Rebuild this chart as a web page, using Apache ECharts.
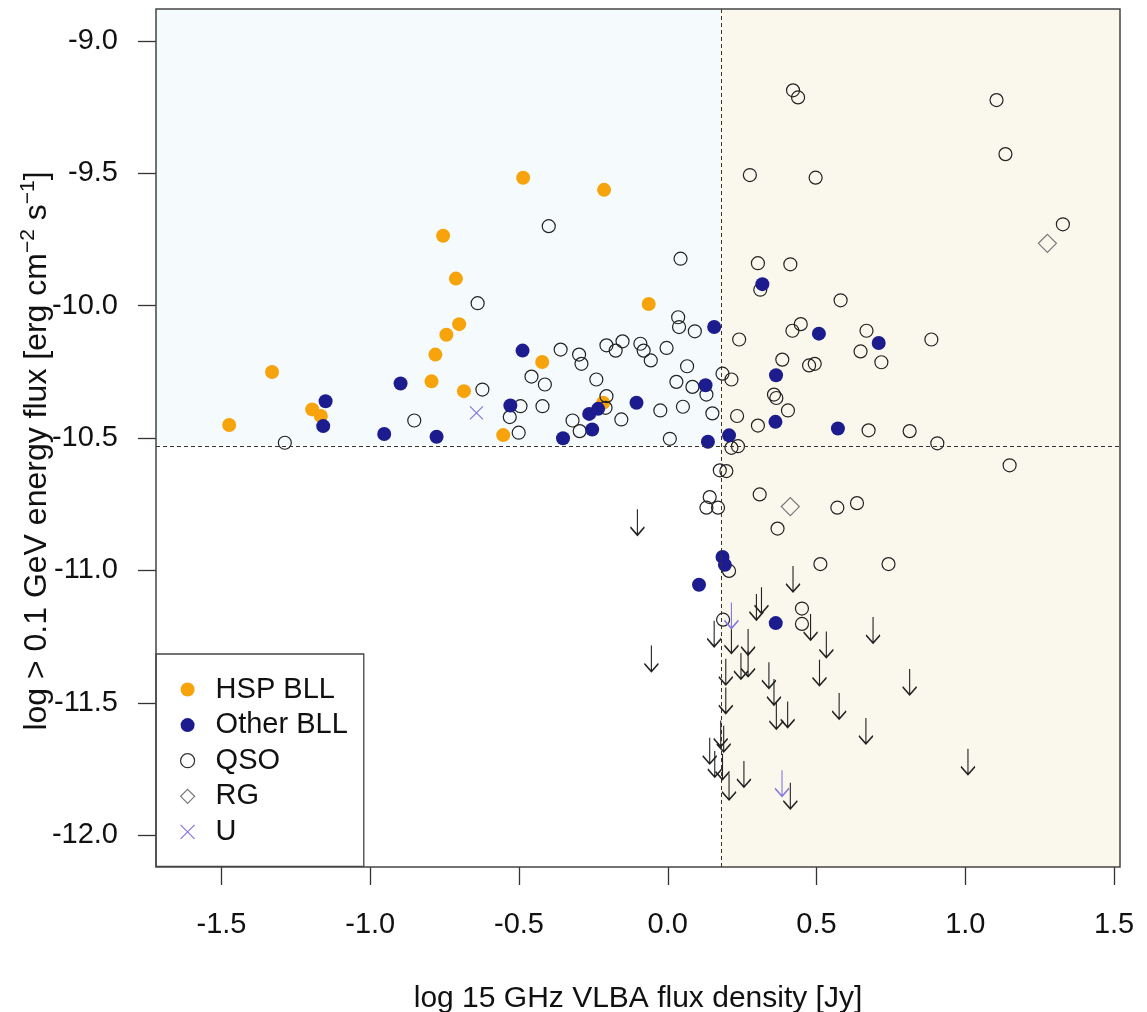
<!DOCTYPE html>
<html>
<head>
<meta charset="utf-8">
<script src="https://cdn.jsdelivr.net/npm/echarts@6/dist/echarts.min.js"></script>
<style>
  html, body { margin: 0; padding: 0; background: #ffffff; }
  #chart { width: 1147px; height: 1012px; }
</style>
</head>
<body>
<div id="chart"></div>
<script>
// Sources: [log 15 GHz VLBA flux density (Jy), log >0.1 GeV energy flux (erg cm^-2 s^-1)]
const hspBll = [
  [-1.474, -10.451], [-1.330, -10.251], [-1.195, -10.392], [-1.166, -10.417],
  [-0.712, -9.898], [-0.701, -10.070], [-0.744, -10.110], [-0.781, -10.185],
  [-0.794, -10.286], [-0.685, -10.323], [-0.755, -9.736], [-0.486, -9.517],
  [-0.214, -9.563], [-0.064, -9.994], [-0.422, -10.213], [-0.553, -10.489],
  [-0.217, -10.367]
];
const otherBll = [
  [-1.150, -10.361], [-1.158, -10.455], [-0.898, -10.294], [-0.953, -10.485],
  [-0.777, -10.495], [-0.488, -10.170], [-0.529, -10.377], [-0.352, -10.501],
  [-0.264, -10.409], [-0.234, -10.390], [-0.254, -10.468], [-0.105, -10.367],
  [0.127, -10.301], [0.135, -10.514], [0.156, -10.081], [0.206, -10.490],
  [0.318, -9.919], [0.364, -10.263], [0.362, -10.439], [0.508, -10.106],
  [0.572, -10.464], [0.709, -10.141], [0.184, -10.949], [0.192, -10.979],
  [0.105, -11.054], [0.363, -11.199]
];
const qso = [
  [-1.287, -10.518], [-0.639, -9.991], [-0.852, -10.434], [-0.623, -10.317],
  [-0.458, -10.268], [-0.413, -10.298], [-0.495, -10.380], [-0.531, -10.421],
  [-0.421, -10.380], [-0.501, -10.480], [-0.400, -9.700], [0.043, -9.823],
  [0.035, -10.044], [0.038, -10.081], [0.091, -10.097], [-0.360, -10.166],
  [-0.298, -10.185], [-0.290, -10.220], [-0.206, -10.150], [-0.175, -10.170],
  [-0.152, -10.135], [-0.092, -10.144], [-0.081, -10.170], [-0.057, -10.207],
  [-0.004, -10.160], [0.065, -10.229], [-0.240, -10.279], [0.029, -10.288],
  [0.083, -10.307], [0.130, -10.336], [-0.206, -10.342], [-0.209, -10.386],
  [-0.320, -10.434], [-0.296, -10.474], [-0.156, -10.430], [-0.025, -10.396],
  [0.051, -10.382], [0.150, -10.407], [0.007, -10.503], [0.184, -10.257],
  [0.214, -10.279], [0.240, -10.128], [0.233, -10.417], [0.303, -9.840],
  [0.412, -9.844], [0.311, -9.940], [0.385, -10.204], [0.419, -10.095],
  [0.447, -10.070], [0.475, -10.226], [0.494, -10.220], [0.357, -10.336],
  [0.365, -10.349], [0.404, -10.396], [0.303, -10.453], [0.214, -10.537],
  [0.236, -10.531], [0.175, -10.622], [0.197, -10.625], [0.581, -9.980],
  [0.421, -9.187], [0.438, -9.214], [1.105, -9.224], [1.135, -9.428],
  [0.276, -9.507], [0.497, -9.517], [1.328, -9.693], [0.668, -10.095],
  [0.648, -10.173], [0.718, -10.214], [0.886, -10.128], [0.675, -10.471],
  [0.813, -10.474], [0.906, -10.520], [1.149, -10.603], [0.570, -10.763],
  [0.636, -10.746], [0.513, -10.976], [0.742, -10.976], [0.141, -10.723],
  [0.130, -10.763], [0.169, -10.763], [0.309, -10.713], [0.369, -10.842],
  [0.206, -11.002], [0.451, -11.144], [0.451, -11.202], [0.186, -11.186]
];
const rg = [[1.276, -9.765], [0.412, -10.759]];
const unclassified = [[-0.643, -10.405]];

// Gamma-ray upper limits (arrow starts at the limit value)
const upperLimits = [
  [-0.102, -10.769], [-0.055, -11.284], [0.421, -10.983], [0.315, -11.064],
  [0.298, -11.089], [0.156, -11.190], [0.214, -11.215], [0.270, -11.221],
  [0.480, -11.165], [0.690, -11.176], [0.533, -11.231], [0.246, -11.312],
  [0.270, -11.303], [0.195, -11.334], [0.340, -11.347], [0.510, -11.337],
  [0.357, -11.410], [0.195, -11.442], [0.576, -11.463], [0.365, -11.501],
  [0.403, -11.495], [0.666, -11.557], [0.178, -11.567], [0.188, -11.587],
  [0.141, -11.632], [0.158, -11.682], [0.184, -11.692], [0.256, -11.720],
  [0.206, -11.768], [0.412, -11.802], [0.813, -11.372], [1.009, -11.673]
];
const upperLimitsU = [[0.214, -11.121], [0.384, -11.755]];

// Axes
const xTicks = [-1.5, -1.0, -0.5, 0.0, 0.5, 1.0, 1.5];
const yTicks = [-12.0, -11.5, -11.0, -10.5, -10.0, -9.5, -9.0];
const xRange = [-1.72, 1.52];
const yRange = [-12.12, -8.88];

// Completeness cuts
const radioCut = 0.177;
const gammaCut = -10.527;

const FONT = '"Liberation Sans", Arial, Helvetica, sans-serif';
const ORANGE = '#f6a30c';
const NAVY = '#1c1c8e';
const PURPLE = '#8478e0';
const INK = '#222222';

const ARROW = 'path://M7,0L7,26M0,18L7,26L14,18';
const CROSS = 'path://M0,0L10,10M10,0L0,10';
const DIAMOND = 'path://M0,-1L1,0L0,1L-1,0Z';

const chart = echarts.init(document.getElementById('chart'), null, { renderer: 'canvas' });

const pointBase = { type: 'scatter', silent: true, emphasis: { disabled: true }, animation: false };

chart.setOption({
  animation: false,
  backgroundColor: '#ffffff',
  grid: {
    left: 156, right: 27, top: 9, bottom: 145,
    outerBoundsMode: 'none', containLabel: false,
    show: true, z: 10, backgroundColor: 'transparent',
    borderColor: '#444', borderWidth: 1.5
  },
  xAxis: {
    type: 'value', min: xRange[0], max: xRange[1],
    axisLine: { show: false, onZero: false }, splitLine: { show: false },
    axisTick: { show: true, length: 18, customValues: xTicks, lineStyle: { color: '#333', width: 1.3 } },
    axisLabel: {
      customValues: xTicks, formatter: v => v.toFixed(1),
      fontSize: 29, color: '#111', margin: 43, fontFamily: FONT
    },
    name: 'log 15 GHz VLBA flux density [Jy]',
    nameLocation: 'middle', nameGap: 117, nameMoveOverlap: false,
    nameTextStyle: { fontSize: 30, color: '#111', fontFamily: FONT }
  },
  yAxis: {
    type: 'value', min: yRange[0], max: yRange[1],
    axisLine: { show: false, onZero: false }, splitLine: { show: false },
    axisTick: { show: true, length: 18, customValues: yTicks, lineStyle: { color: '#333', width: 1.3 } },
    axisLabel: {
      customValues: yTicks, formatter: v => v.toFixed(1),
      fontSize: 29, color: '#111', margin: 38, fontFamily: FONT
    },
    name: 'log > 0.1 GeV energy flux [erg cm{sup|\u22122} s{sup|\u22121}]',
    nameLocation: 'middle', nameGap: 100, nameMoveOverlap: false,
    nameTextStyle: {
      fontSize: 32, color: '#111', fontFamily: FONT, lineHeight: 38,
      padding: [0, 26, 0, 0],
      rich: { sup: { fontSize: 21, lineHeight: 21, verticalAlign: 'top', color: '#111', fontFamily: FONT } }
    }
  },
  legend: {
    orient: 'vertical', left: 156, top: 654,
    padding: [21, 16, 20, 24],
    itemWidth: 46, itemHeight: 14, itemGap: 6.6,
    backgroundColor: '#ffffff', borderColor: '#444', borderWidth: 1.3, borderRadius: 0,
    selectedMode: false,
    textStyle: { fontSize: 29, lineHeight: 29, color: '#111', fontFamily: FONT },
    data: [
      { name: 'HSP BLL', icon: 'circle', itemStyle: { color: ORANGE, borderWidth: 0, opacity: 1 } },
      { name: 'Other BLL', icon: 'circle', itemStyle: { color: NAVY, borderWidth: 0, opacity: 1 } },
      { name: 'QSO', icon: 'circle', itemStyle: { color: 'transparent', borderColor: '#333', borderWidth: 1.2, opacity: 1 } },
      { name: 'RG', icon: DIAMOND, itemStyle: { color: 'transparent', borderColor: '#777', borderWidth: 1.2, opacity: 1 } },
      { name: 'U', icon: CROSS, itemStyle: { color: 'transparent', borderColor: PURPLE, borderWidth: 1.2, opacity: 1 } }
    ]
  },
  series: [
    {
      // shaded regions and cut lines
      type: 'scatter', name: 'cuts', data: [], silent: true, z: 1,
      markArea: {
        silent: true,
        data: [
          [{ coord: [xRange[0], gammaCut], itemStyle: { color: '#f5fbfc', opacity: 1 } }, { coord: [radioCut, yRange[1]] }],
          [{ coord: [radioCut, yRange[0]], itemStyle: { color: '#faf8ec', opacity: 1 } }, { coord: [xRange[1], yRange[1]] }]
        ]
      },
      markLine: {
        silent: true, symbol: 'none', animation: false,
        label: { show: false },
        lineStyle: { color: '#333', width: 1, type: [4, 3], opacity: 1 },
        data: [{ xAxis: radioCut }, { yAxis: gammaCut }]
      }
    },
    Object.assign({}, pointBase, {
      name: 'HSP BLL', data: hspBll, z: 2, symbol: 'circle', symbolSize: 14,
      itemStyle: { color: ORANGE, opacity: 1 }
    }),
    Object.assign({}, pointBase, {
      name: 'QSO', data: qso, z: 3, symbol: 'circle', symbolSize: 13,
      itemStyle: { color: 'transparent', borderColor: INK, borderWidth: 1.2, opacity: 1 }
    }),
    Object.assign({}, pointBase, {
      name: 'RG', data: rg, z: 3, symbol: 'diamond', symbolSize: 18,
      itemStyle: { color: 'transparent', borderColor: '#777', borderWidth: 1.2, opacity: 1 }
    }),
    Object.assign({}, pointBase, {
      name: 'U', data: unclassified, z: 3, symbol: CROSS, symbolSize: 13,
      itemStyle: { color: 'transparent', borderColor: PURPLE, borderWidth: 1.2, opacity: 1 }
    }),
    Object.assign({}, pointBase, {
      name: 'Other BLL', data: otherBll, z: 4, symbol: 'circle', symbolSize: 14,
      itemStyle: { color: NAVY, opacity: 1 }
    }),
    Object.assign({}, pointBase, {
      name: 'Upper limits', data: upperLimits, z: 5, symbol: ARROW,
      symbolSize: [14, 26], symbolOffset: [0, 13],
      itemStyle: { color: 'transparent', borderColor: INK, borderWidth: 1.5, opacity: 1 }
    }),
    Object.assign({}, pointBase, {
      name: 'U upper limits', data: upperLimitsU, z: 5, symbol: ARROW,
      symbolSize: [14, 26], symbolOffset: [0, 13],
      itemStyle: { color: 'transparent', borderColor: PURPLE, borderWidth: 1.5, opacity: 1 }
    })
  ]
});
</script>
</body>
</html>
